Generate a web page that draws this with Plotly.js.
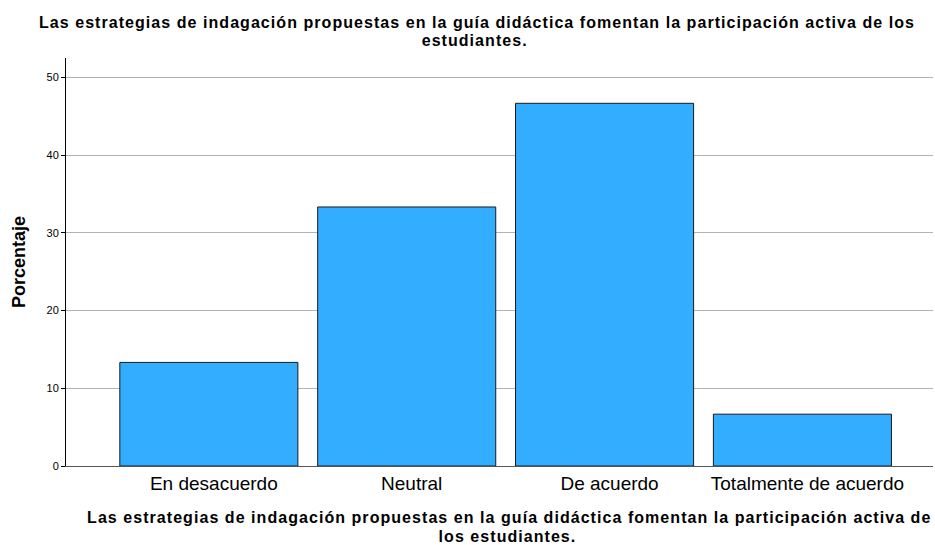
<!DOCTYPE html>
<html>
<head>
<meta charset="utf-8">
<script src="https://cdn.plot.ly/plotly-3.0.1.min.js"></script>
<style>
html,body{margin:0;padding:0;background:#fff;}
#chart{width:935px;height:545px;}
#chart .annotation-text{letter-spacing:1.05px;}
</style>
</head>
<body>
<div id="chart"></div>
<script>
const categories = ["En desacuerdo", "Neutral", "De acuerdo", "Totalmente de acuerdo"];
const percentages = [13.33, 33.33, 46.67, 6.67];
const yTicks = [0, 10, 20, 30, 40, 50];
const titleLines = ["Las estrategias de indagación propuestas en la guía didáctica fomentan la participación activa de los", "estudiantes."];
const xTitleLines = ["Las estrategias de indagación propuestas en la guía didáctica fomentan la participación activa de", "los estudiantes."];
const yTitle = "Porcentaje";

const font = "Liberation Sans, Arial, sans-serif";
const aFont = {family: font, size: 16, color: "#000"};

function lineAnn(text, xPx, yPx) {
  return {
    text: "<b>" + text + "</b>", font: aFont, showarrow: false, borderpad: 0,
    xref: "paper", yref: "paper",
    x: (xPx - 66) / (935 - 66 - 2), y: (466 - yPx) / (466 - 58),
    xanchor: "center", yanchor: "middle"
  };
}

Plotly.newPlot("chart", [{
  type: "bar",
  x: categories.map((_, i) => i),
  y: percentages,
  width: 0.9,
  marker: {color: "#33adff", line: {color: "#1a1a1a", width: 1}},
  hoverinfo: "none"
}], {
  width: 935, height: 545,
  margin: {l: 66, r: 2, t: 58, b: 79},
  paper_bgcolor: "#fff", plot_bgcolor: "#fff",
  showlegend: false,
  annotations: [
    lineAnn(titleLines[0], 477, 22),
    lineAnn(titleLines[1], 474, 40.5),
    lineAnn(xTitleLines[0], 509, 517.5),
    lineAnn(xTitleLines[1], 508, 536)
  ],
  xaxis: {
    range: [-0.722, 3.66],
    tickmode: "array", tickvals: categories.map((_, i) => i), ticktext: categories,
    tickfont: {family: font, size: 19, color: "#000"},
    showgrid: false, zeroline: false, showline: true, linecolor: "#555", linewidth: 1,
    ticks: "", ticklen: 0, ticklabelstandoff: 0, ticklabelshift: 5
  },
  yaxis: {
    range: [0, 52.5],
    tickmode: "array", tickvals: yTicks,
    tickfont: {family: font, size: 11, color: "#000"},
    showgrid: true, gridcolor: "#b3b3b3", gridwidth: 1,
    zeroline: false, showline: true, linecolor: "#000", linewidth: 1,
    ticks: "outside", ticklen: 4, tickcolor: "#000",
    title: {text: "<b>" + yTitle + "</b>", font: {family: font, size: 18, color: "#000"}, standoff: 16}
  }
}, {displayModeBar: false, staticPlot: true});
</script>
</body>
</html>
